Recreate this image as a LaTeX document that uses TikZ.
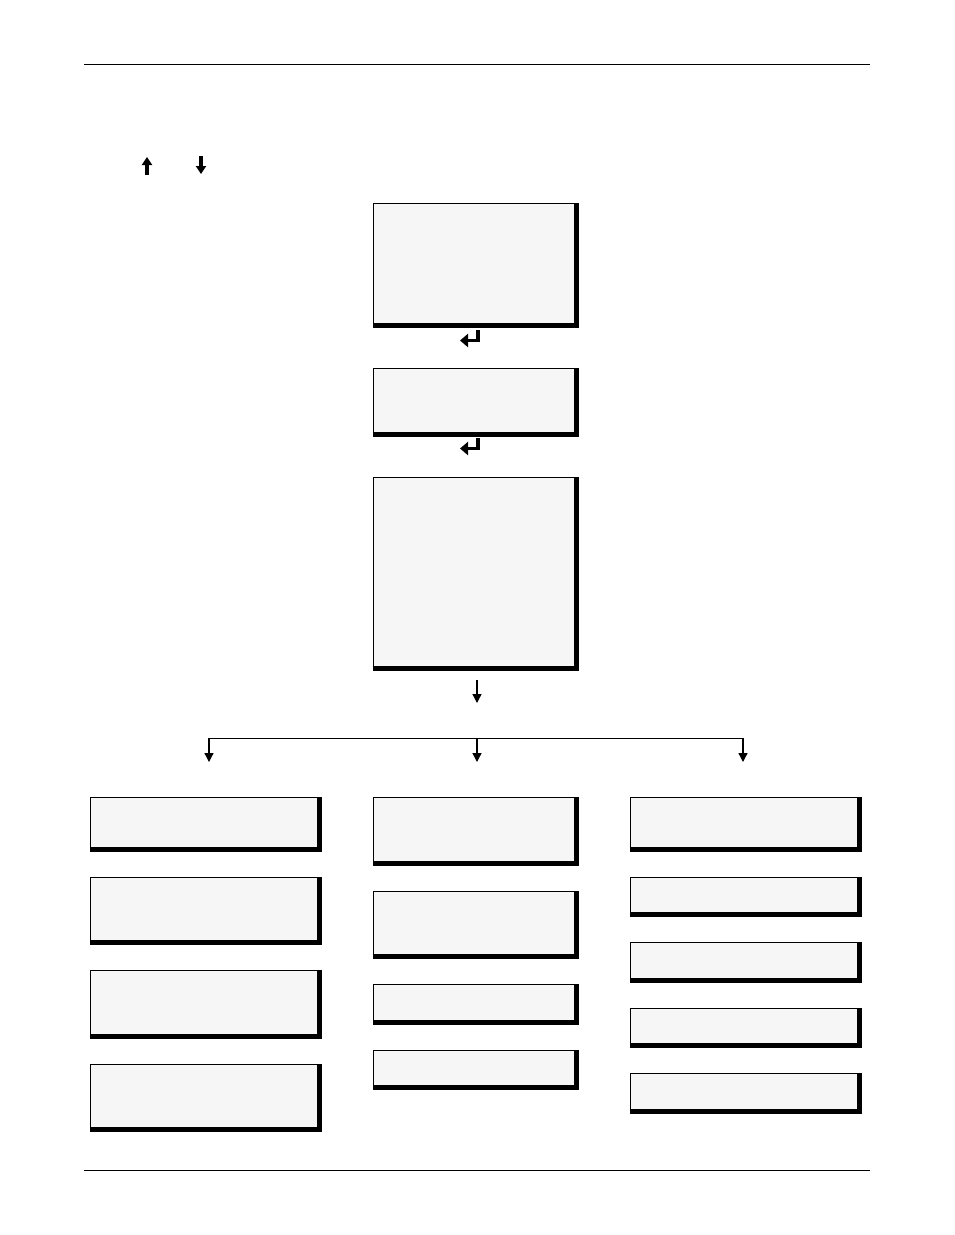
\documentclass[tikz,border=0pt]{standalone}
\usepackage{xcolor}
\usepackage{tikz}
\usetikzlibrary{arrows.meta,positioning}
\definecolor{lcdPanel}{HTML}{F6F6F6}
\tikzset{
  screen box/.style={draw=black,line width=0.8pt,fill=lcdPanel,
    minimum width=201pt,inner sep=0pt,outer sep=0pt,anchor=north},
  side box/.style={screen box,minimum width=227pt},
  box edge/.style={line width=4.6pt,line join=miter,draw=black},
  key arrow/.style={-{Triangle[length=8pt,width=10pt]},line width=3.2pt},
  enter key/.style={-{Triangle[length=8pt,width=13pt]},line width=3.4pt},
  flow arrow/.style={-{Triangle[length=9pt,width=9pt]},line width=1.3pt}
}

\begin{document}
\begin{tikzpicture}[x=1pt,y=-1pt,node distance=30pt]
\useasboundingbox (0,0) rectangle (954,1235);
\draw[line width=1pt] (84,64) -- (870,64);
\draw[line width=1pt] (84,1170) -- (870,1170);
\draw[key arrow] (147,175) -- (147,157);
\draw[key arrow] (201,156) -- (201,174);
% centre column
\node[screen box,minimum height=120pt] (menu) at (473.5,203) {};
\node[screen box,minimum height=64pt,below=45pt of menu] (select) {};
\node[screen box,minimum height=189pt,below=45pt of select] (setup) {};
\draw[enter key] (478,330) -- (478,340.5) -- (460,340.5);
\draw[enter key] (478,438) -- (478,448.5) -- (460,448.5);
% branches
\coordinate (setup out) at (477,680);
\coordinate (setup in) at (477,703);
\coordinate (split left) at (209,738);
\coordinate (split mid) at (477,738);
\coordinate (split right) at (743,738);
\coordinate (drop left) at (209,762);
\coordinate (drop mid) at (477,762);
\coordinate (drop right) at (743,762);
\draw[flow arrow] (setup out) -- (setup in);
\draw[line width=0.9pt] (split left) -- (split right);
\draw[flow arrow] (split left) -- (drop left);
\draw[flow arrow] (split mid) -- (drop mid);
\draw[flow arrow] (split right) -- (drop right);
% left column
\node[side box,minimum height=50pt] (left1) at (203.5,797) {};
\node[side box,minimum height=63pt,below=of left1] (left2) {};
\node[side box,minimum height=64pt,below=of left2] (left3) {};
\node[side box,minimum height=63pt,below=of left3] (left4) {};
% middle column
\node[screen box,minimum height=64pt] (mid1) at (473.5,797) {};
\node[screen box,minimum height=63pt,below=of mid1] (mid2) {};
\node[screen box,minimum height=36pt,below=of mid2] (mid3) {};
\node[screen box,minimum height=35pt,below=of mid3] (mid4) {};
% right column
\node[side box,minimum height=50pt] (right1) at (743.5,797) {};
\node[side box,minimum height=35pt,below=of right1] (right2) {};
\node[side box,minimum height=36pt,below=of right2] (right3) {};
\node[side box,minimum height=35pt,below=of right3] (right4) {};
\node[side box,minimum height=36pt,below=of right4] (right5) {};
% heavy right and bottom edges
\foreach \b in {menu,select,setup,left1,left2,left3,left4,mid1,mid2,mid3,mid4,
    right1,right2,right3,right4,right5}
  \draw[box edge] ([shift={(2.3pt,0pt)}]\b.north east)
    -- ([shift={(2.3pt,-2.3pt)}]\b.south east)
    -- ([shift={(0pt,-2.3pt)}]\b.south west);
\end{tikzpicture}
\end{document}
